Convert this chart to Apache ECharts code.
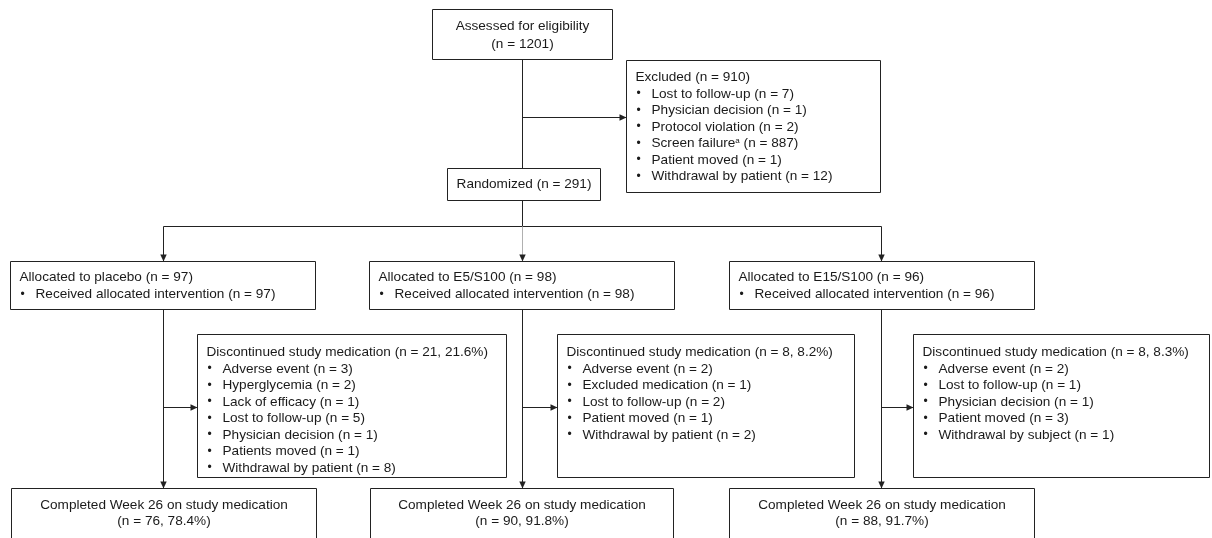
<!DOCTYPE html>
<html>
<head>
<meta charset="utf-8">
<script src="https://cdn.jsdelivr.net/npm/echarts@6/dist/echarts.min.js"></script>
<style>
html,body{margin:0;padding:0;background:#fff;}
#chart{width:1212px;height:538px;}
</style>
</head>
<body>
<div id="chart"></div>
<script>
// ---------------- DATA ----------------
const assessedLabel = 'Assessed for eligibility';
const assessedN = 1201;
const excludedN = 910;
const excludedReasons = ['Lost to follow-up', 'Physician decision', 'Protocol violation', 'Screen failure', 'Patient moved', 'Withdrawal by patient'];
const excludedCounts = [7, 1, 2, 887, 1, 12];
const excludedFootnotes = ['', '', '', 'a', '', ''];
const randomizedN = 291;
const armNames = ['placebo', 'E5/S100', 'E15/S100'];
const allocatedN = [97, 98, 96];
const receivedN = [97, 98, 96];
const discontinuedN = [21, 8, 8];
const discontinuedPct = ['21.6%', '8.2%', '8.3%'];
const discReasons = [
  ['Adverse event', 'Hyperglycemia', 'Lack of efficacy', 'Lost to follow-up', 'Physician decision', 'Patients moved', 'Withdrawal by patient'],
  ['Adverse event', 'Excluded medication', 'Lost to follow-up', 'Patient moved', 'Withdrawal by patient'],
  ['Adverse event', 'Lost to follow-up', 'Physician decision', 'Patient moved', 'Withdrawal by subject']
];
const discCounts = [
  [3, 2, 1, 5, 1, 1, 8],
  [2, 1, 2, 1, 2],
  [2, 1, 1, 3, 1]
];
const completedLabel = 'Completed Week 26 on study medication';
const completedN = [76, 90, 88];
const completedPct = ['78.4%', '91.8%', '91.7%'];

// ---------------- LAYOUT (page units) ----------------
const LAYOUT = {
  assessed:   {rect: [432.5, 9.5, 612.5, 59.5], align: 'center', first: 17, step: 17.5},
  excluded:   {rect: [626.5, 60.5, 880.5, 192.5], align: 'left', first: 17, step: 16.5},
  randomized: {rect: [447.5, 168.5, 600.5, 200.5], align: 'center', first: 16, step: 16.5},
  alloc0: {rect: [10.5, 261.5, 315.5, 309.5], align: 'left', first: 16, step: 17},
  alloc1: {rect: [369.5, 261.5, 674.5, 309.5], align: 'left', first: 16, step: 17},
  alloc2: {rect: [729.5, 261.5, 1034.5, 309.5], align: 'left', first: 16, step: 17},
  disc0: {rect: [197.5, 334.5, 506.5, 477.5], align: 'left', first: 18, step: 16.5},
  disc1: {rect: [557.5, 334.5, 854.5, 477.5], align: 'left', first: 18, step: 16.5},
  disc2: {rect: [913.5, 334.5, 1209.5, 477.5], align: 'left', first: 18, step: 16.5},
  comp0: {rect: [11.5, 488.5, 316.5, 560], align: 'center', first: 17, step: 16},
  comp1: {rect: [370.5, 488.5, 673.5, 560], align: 'center', first: 17, step: 16},
  comp2: {rect: [729.5, 488.5, 1034.5, 560], align: 'center', first: 17, step: 16}
};
const PAD = 9, BULLET_INDENT = 16;
const LINE_COLOR = '#222';
const TEXT_COLOR = '#1a1a1a';
const FONT_FAMILY = '"Liberation Sans", Arial, sans-serif';
const FONT = '13.6px ' + FONT_FAMILY;

// connectors: points, arrow at end?, colour
const CX = [163.5, 522.5, 881.5];
const CONNECTORS = [
  {pts: [[522.5, 59.5], [522.5, 168.5]], arrow: false},
  {pts: [[522.5, 117.5], [626.5, 117.5]], arrow: true},
  {pts: [[522.5, 200.5], [522.5, 226.5]], arrow: false},
  {pts: [[CX[0], 226.5], [CX[2], 226.5]], arrow: false},
  {pts: [[CX[0], 226.5], [CX[0], 261.5]], arrow: true},
  {pts: [[CX[1], 226.5], [CX[1], 261.5]], arrow: true, color: '#b0b0b0', head: '#222'},
  {pts: [[CX[2], 226.5], [CX[2], 261.5]], arrow: true},
  {pts: [[CX[0], 309.5], [CX[0], 488.5]], arrow: true},
  {pts: [[CX[1], 309.5], [CX[1], 488.5]], arrow: true},
  {pts: [[CX[2], 309.5], [CX[2], 488.5]], arrow: true},
  {pts: [[CX[0], 407.5], [197.5, 407.5]], arrow: true},
  {pts: [[CX[1], 407.5], [557.5, 407.5]], arrow: true},
  {pts: [[CX[2], 407.5], [913.5, 407.5]], arrow: true}
];

// ---------------- BUILD BOXES FROM DATA ----------------
const boxes = [];
boxes.push({id: 'assessed', lines: [{text: assessedLabel}, {text: '(n = ' + assessedN + ')'}]});
boxes.push({id: 'excluded', lines: [{text: 'Excluded (n = ' + excludedN + ')'}].concat(
  excludedReasons.map((r, i) => ({
    bullet: true,
    text: r + (excludedFootnotes[i] ? '{sup|' + excludedFootnotes[i] + '}' : '') + ' (n = ' + excludedCounts[i] + ')'
  })))});
boxes.push({id: 'randomized', lines: [{text: 'Randomized (n = ' + randomizedN + ')'}]});
armNames.forEach((a, k) => {
  boxes.push({id: 'alloc' + k, lines: [
    {text: 'Allocated to ' + a + ' (n = ' + allocatedN[k] + ')'},
    {bullet: true, text: 'Received allocated intervention (n = ' + receivedN[k] + ')'}
  ]});
  boxes.push({id: 'disc' + k, lines: [{text: 'Discontinued study medication (n = ' + discontinuedN[k] + ', ' + discontinuedPct[k] + ')'}].concat(
    discReasons[k].map((r, i) => ({bullet: true, text: r + ' (n = ' + discCounts[k][i] + ')'})))});
  boxes.push({id: 'comp' + k, lines: [
    {text: completedLabel},
    {text: '(n = ' + completedN[k] + ', ' + completedPct[k] + ')'}
  ]});
});

// ---------------- RENDER ----------------
function renderBox(params, api) {
  const b = boxes[params.dataIndex];
  const L = LAYOUT[b.id];
  const p0 = api.coord([L.rect[0], L.rect[1]]);
  const p1 = api.coord([L.rect[2], L.rect[3]]);
  const children = [{
    type: 'rect',
    shape: {x: p0[0], y: p0[1], width: p1[0] - p0[0], height: p1[1] - p0[1]},
    style: {fill: '#fff', stroke: LINE_COLOR, lineWidth: 1}
  }];
  b.lines.forEach((ln, i) => {
    const y = p0[1] + L.first + i * L.step;
    if (L.align === 'center') {
      children.push({type: 'text', style: {text: ln.text, x: (p0[0] + p1[0]) / 2, y: y, align: 'center', verticalAlign: 'middle', font: FONT, fill: TEXT_COLOR}});
    } else {
      const x0 = p0[0] + PAD;
      if (ln.bullet) {
        children.push({type: 'text', style: {text: '•', x: x0 + 1, y: y, align: 'left', verticalAlign: 'middle', font: '12px ' + FONT_FAMILY, fill: TEXT_COLOR}});
      }
      children.push({type: 'text', style: {
        text: ln.text, x: x0 + (ln.bullet ? BULLET_INDENT : 0), y: y,
        align: 'left', verticalAlign: 'middle', font: FONT, fill: TEXT_COLOR,
        rich: {sup: {fontSize: 8, fontFamily: FONT_FAMILY, verticalAlign: 'top', fill: TEXT_COLOR}}
      }});
    }
  });
  return {type: 'group', children: children};
}

function renderConnector(params, api) {
  const c = CONNECTORS[params.dataIndex];
  const pts = c.pts.map(p => api.coord(p));
  const children = [{
    type: 'polyline',
    shape: {points: pts},
    style: {stroke: c.color || LINE_COLOR, lineWidth: 1, fill: null}
  }];
  if (c.arrow) {
    const a = pts[pts.length - 2], b = pts[pts.length - 1];
    const dx = b[0] - a[0], dy = b[1] - a[1];
    const len = Math.sqrt(dx * dx + dy * dy) || 1;
    const ux = dx / len, uy = dy / len;
    const hl = 7, hw = 3.2;
    const bx = b[0] - ux * hl, by = b[1] - uy * hl;
    children.push({
      type: 'polygon',
      shape: {points: [[b[0], b[1]], [bx - uy * hw, by + ux * hw], [bx + uy * hw, by - ux * hw]]},
      style: {fill: c.head || LINE_COLOR, stroke: null}
    });
  }
  return {type: 'group', children: children};
}

const chart = echarts.init(document.getElementById('chart'), null, {renderer: 'canvas'});
chart.setOption({
  backgroundColor: '#fff',
  animation: false,
  grid: {left: 0, right: 0, top: 0, bottom: 0},
  xAxis: {type: 'value', min: 0, max: 1212, show: false},
  yAxis: {type: 'value', min: 0, max: 538, inverse: true, show: false},
  series: [
    {type: 'custom', coordinateSystem: 'cartesian2d', silent: true, clip: false,
     data: CONNECTORS.map((c, i) => i), renderItem: renderConnector, z: 1},
    {type: 'custom', coordinateSystem: 'cartesian2d', silent: true, clip: false,
     data: boxes.map((b, i) => i), renderItem: renderBox, z: 2}
  ]
});
</script>
</body>
</html>
